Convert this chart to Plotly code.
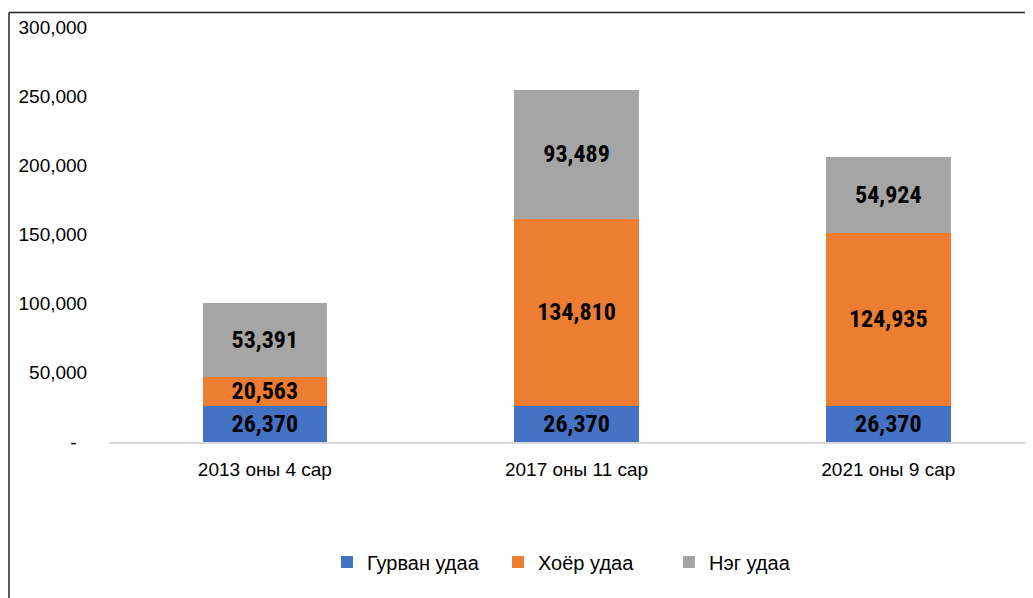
import plotly.graph_objects as go

categories = ["2013 оны 4 сар", "2017 оны 11 сар", "2021 оны 9 сар"]
series_names = ["Гурван удаа", "Хоёр удаа", "Нэг удаа"]
gurvan = [26370, 26370, 26370]
hoyor = [20563, 134810, 124935]
neg = [53391, 93489, 54924]
colors = ["#4472C4", "#ED7D31", "#A5A5A5"]
y_tickvals = [0, 50000, 100000, 150000, 200000, 250000, 300000]
y_ticktext = ["-\u00a0\u00a0", "50,000", "100,000", "150,000", "200,000", "250,000", "300,000"]

# page is shown with an 8px body offset
OFF = 8
W, H = 1033, 598
ml, mr, mt = 109 - OFF, 0, 27 - OFF
ph = 415
mb = H - mt - ph
pw = W - ml - mr
base_y = mt + ph  # figure px of y=0

fig = go.Figure()
for name, vals, col in zip(series_names, [gurvan, hoyor, neg], colors):
    fig.add_trace(go.Bar(
        x=categories, y=vals, name=name, marker=dict(color=col, line=dict(width=0)),
        text=vals, texttemplate="%{y:,}", textposition="inside",
        insidetextanchor="middle", constraintext="none",
        textfont=dict(family="Liberation Sans Narrow, Arial Narrow, Roboto Condensed, sans-serif",
                      size=24, color="black", weight="bold"),
    ))

top_y = (base_y - (12.5 - OFF)) / ph
left_x = (9 - OFF - ml) / pw

fig.update_layout(
    barmode="stack", bargap=0.6,
    width=W, height=H,
    margin=dict(l=ml, r=mr, t=mt, b=mb, pad=0),
    paper_bgcolor="white", plot_bgcolor="white",
    uniformtext=dict(minsize=24, mode="show"),
    font=dict(family="Liberation Sans, Arial, sans-serif", color="black", size=19),
    showlegend=True,
    legend=dict(orientation="h", x=(345 - 18 - 109) / 932, xanchor="left",
                y=(442 - 562) / ph, yanchor="middle",
                font=dict(size=20, color="black"), traceorder="normal",
                entrywidth=126, entrywidthmode="pixels"),
    xaxis=dict(range=[-0.5, 2.49], showline=True, linecolor="#D9D9D9", linewidth=1.5,
               ticks="", showgrid=False, tickfont=dict(size=19), fixedrange=True,
               ticklabelstandoff=9),
    yaxis=dict(range=[0, 300000], tickvals=y_tickvals, ticktext=y_ticktext, showgrid=False,
               zeroline=False, showline=False, ticks="outside", ticklen=17, tickcolor="white",
               tickfont=dict(size=19)),
    shapes=[
        dict(type="line", xref="paper", yref="paper",
             x0=left_x, x1=1.05, y0=top_y, y1=top_y, line=dict(color="#222222", width=1.5)),
        dict(type="line", xref="paper", yref="paper",
             x0=left_x, x1=left_x, y0=top_y, y1=-0.5, line=dict(color="#222222", width=1.5)),
    ],
)

fig.write_html("out.html")
